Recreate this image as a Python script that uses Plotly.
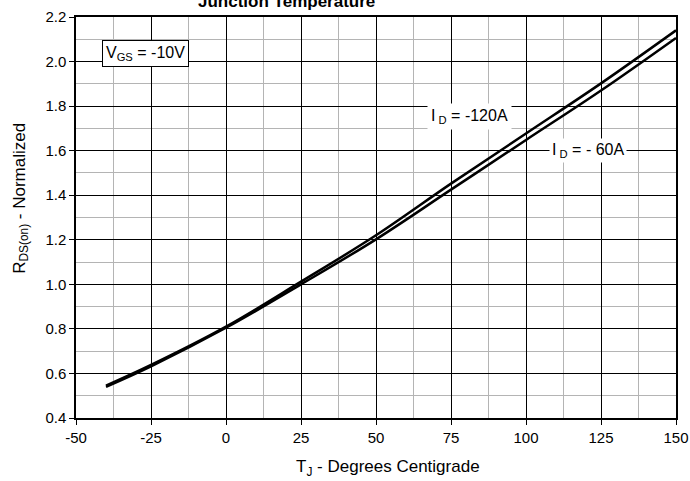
import plotly.graph_objects as go

temps = [-40, -25, 0, 25, 50, 75, 100, 125, 150]
rds_120a = [0.545, 0.638, 0.810, 1.012, 1.220, 1.452, 1.677, 1.902, 2.140]
rds_60a = [0.540, 0.632, 0.805, 1.000, 1.202, 1.425, 1.648, 1.870, 2.106]

x_ticks = [-50, -25, 0, 25, 50, 75, 100, 125, 150]
y_ticks = [0.4, 0.6, 0.8, 1.0, 1.2, 1.4, 1.6, 1.8, 2.0, 2.2]

FONT = "Arial, Liberation Sans, sans-serif"

fig = go.Figure()
fig.add_trace(go.Scatter(x=temps, y=rds_120a, mode="lines", line=dict(color="black", width=2.5, shape="spline"), showlegend=False))
fig.add_trace(go.Scatter(x=temps, y=rds_60a, mode="lines", line=dict(color="black", width=2.5, shape="spline"), showlegend=False))

fig.update_layout(
    width=690, height=481,
    margin=dict(l=76, r=14, t=17, b=63),
    paper_bgcolor="white", plot_bgcolor="white",
    font=dict(family=FONT, size=15, color="black"),
    xaxis=dict(
        range=[-50, 150], tickvals=x_ticks, ticktext=[str(v) for v in x_ticks],
        automargin=False,
        showgrid=True, gridcolor="black", gridwidth=1,
        minor=dict(dtick=12.5, tick0=-50, showgrid=True, gridcolor="#b4b4b4", gridwidth=1),
        showline=True, linecolor="black", linewidth=1.5, mirror=True,
        ticks="outside", ticklen=5, tickcolor="black",
        zeroline=False,
    ),
    yaxis=dict(
        range=[0.4, 2.2], tickvals=y_ticks, ticktext=["%.1f" % v for v in y_ticks],
        automargin=False,
        showgrid=True, gridcolor="black", gridwidth=1,
        minor=dict(dtick=0.1, tick0=0.4, showgrid=True, gridcolor="#b4b4b4", gridwidth=1),
        showline=True, linecolor="black", linewidth=1.5, mirror=True,
        ticks="outside", ticklen=5, tickcolor="black",
        zeroline=False,
    ),
    annotations=[
        dict(text="<b>Junction Temperature</b>", xref="paper", yref="paper", x=0.35, y=1.011,
             xanchor="center", yanchor="bottom", showarrow=False, font=dict(size=17, color="black")),
        dict(text="T<sub>J</sub> - Degrees Centigrade", xref="paper", yref="paper", x=0.52, y=-0.124,
             xanchor="center", yanchor="middle", showarrow=False, font=dict(size=17, color="black")),
        dict(text="R<sub>DS(on)</sub> - Normalized", xref="paper", yref="paper", x=-0.093, y=0.547,
             xanchor="center", yanchor="middle", textangle=-90, showarrow=False, font=dict(size=17, color="black")),
        dict(text="V<sub>GS</sub> = -10V", x=-26.8, y=2.035, xref="x", yref="y", showarrow=False,
             font=dict(size=16, color="black"), bgcolor="white", bordercolor="black", borderwidth=1, borderpad=3),
        dict(text="I<sub> D</sub> = -120A", x=81.3, y=1.752, xref="x", yref="y", showarrow=False,
             font=dict(size=16, color="black"), bgcolor="white", borderpad=3),
        dict(text="I<sub> D</sub> = - 60A", x=120.7, y=1.60, xref="x", yref="y", showarrow=False,
             font=dict(size=16, color="black"), bgcolor="white", borderpad=2),
    ],
)

fig.write_html("out.html")
